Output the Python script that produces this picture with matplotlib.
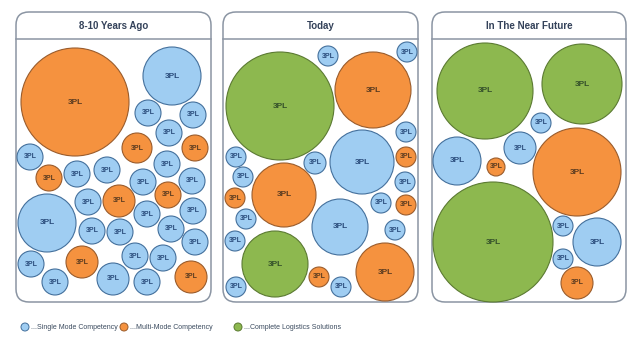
import matplotlib.pyplot as plt
from matplotlib.patches import Circle, FancyBboxPatch

# Bubble layout per panel, in pixel units (x right, y down)
panel_titles = ["8-10 Years Ago", "Today", "In The Near Future"]
panel_left = [16, 223, 432]
panel_right = [211, 418, 626]

# kind: 0 = single mode, 1 = multi-mode, 2 = complete logistics
ago_x = [75, 172, 148, 193, 169, 137, 195, 30, 167, 49, 77, 107, 143, 192,
         168, 88, 119, 147, 193, 47, 92, 120, 171, 195, 31, 82, 135, 163,
         55, 113, 147, 191]
ago_y = [102, 76, 113, 115, 133, 148, 148, 157, 164, 178, 174, 170, 182, 181,
         195, 202, 201, 214, 211, 223, 231, 232, 229, 242, 264, 262, 256, 258,
         282, 279, 282, 277]
ago_r = [54, 29, 13, 13, 13, 15, 13, 13, 13, 13, 13, 13, 13, 13,
         13, 13, 16, 13, 13, 29, 13, 13, 13, 13, 13, 16, 13, 13,
         13, 16, 13, 16]
ago_kind = [1, 0, 0, 0, 0, 1, 1, 0, 0, 1, 0, 0, 0, 0,
            1, 0, 1, 0, 0, 0, 0, 0, 0, 0, 0, 1, 0, 0,
            0, 0, 0, 1]

today_x = [280, 373, 328, 407, 406, 362, 406, 236, 315, 243, 284, 405,
           235, 381, 406, 246, 340, 395, 235, 275, 385, 319, 341, 236]
today_y = [106, 90, 56, 52, 132, 162, 157, 157, 163, 177, 195, 182,
           198, 203, 205, 219, 227, 230, 241, 264, 272, 277, 287, 287]
today_r = [54, 38, 10, 10, 10, 32, 10, 10, 11, 10, 32, 10,
           10, 10, 10, 10, 28, 10, 10, 33, 29, 10, 10, 10]
today_kind = [2, 1, 0, 0, 0, 0, 1, 0, 0, 0, 1, 0,
              1, 0, 1, 0, 0, 0, 0, 2, 1, 1, 0, 0]

future_x = [485, 582, 541, 520, 457, 496, 577, 493, 563, 597, 563, 577]
future_y = [91, 84, 123, 148, 161, 167, 172, 242, 226, 242, 259, 283]
future_r = [48, 40, 10, 16, 24, 9, 44, 60, 10, 24, 10, 16]
future_kind = [2, 2, 0, 0, 0, 1, 1, 2, 0, 0, 0, 1]

legend_labels = ["...Single Mode Competency", "...Multi-Mode Competency",
                 "...Complete Logistics Solutions"]
legend_x = [25, 124, 238]

fills = ["#9fcdf2", "#f5923f", "#8db84f"]
edges = ["#44709c", "#9a5c2c", "#5b7a32"]
text_colors = ["#2a4c7c", "#5a3b20", "#34502a"]


def draw_panel(ax, left, right, title):
    box = FancyBboxPatch((left, 12), right - left, 290,
                         boxstyle="round,pad=0,rounding_size=13",
                         facecolor="white", edgecolor="#8b95a3", linewidth=1.1,
                         zorder=1)
    ax.add_patch(box)
    ax.plot([left, right], [39, 39], color="#8b95a3", linewidth=1.1, zorder=2)
    ax.text((left + right) / 2, 26, title, ha="center", va="center",
            fontsize=7, fontweight="bold", color="#34425a",
            family="Liberation Sans", zorder=3)


def draw_bubbles(ax, xs, ys, rs, kinds):
    for x, y, r, k in zip(xs, ys, rs, kinds):
        ax.add_patch(Circle((x, y), r, facecolor=fills[k], edgecolor=edges[k],
                            linewidth=0.8, zorder=4))
        size = 6 if r >= 20 else 5
        ax.text(x, y, "3PL", ha="center", va="center", fontsize=size,
                fontweight="bold", color=text_colors[k],
                family="Liberation Sans", zorder=5)


fig = plt.figure(figsize=(6.4, 3.39), dpi=100)
ax = fig.add_axes([0, 0, 1, 1])
ax.set_xlim(0, 640)
ax.set_ylim(339, 0)
ax.axis("off")

for left, right, title in zip(panel_left, panel_right, panel_titles):
    draw_panel(ax, left, right, title)

draw_bubbles(ax, ago_x, ago_y, ago_r, ago_kind)
draw_bubbles(ax, today_x, today_y, today_r, today_kind)
draw_bubbles(ax, future_x, future_y, future_r, future_kind)

for k, (lx, label) in enumerate(zip(legend_x, legend_labels)):
    ax.add_patch(Circle((lx, 327), 4, facecolor=fills[k], edgecolor=edges[k],
                        linewidth=0.7, zorder=4))
    ax.text(lx + 6, 327.5, label, ha="left", va="center", fontsize=5.0,
            color="#3a4a5e", family="Liberation Sans", zorder=5)

fig.savefig("out.png", dpi=100)
